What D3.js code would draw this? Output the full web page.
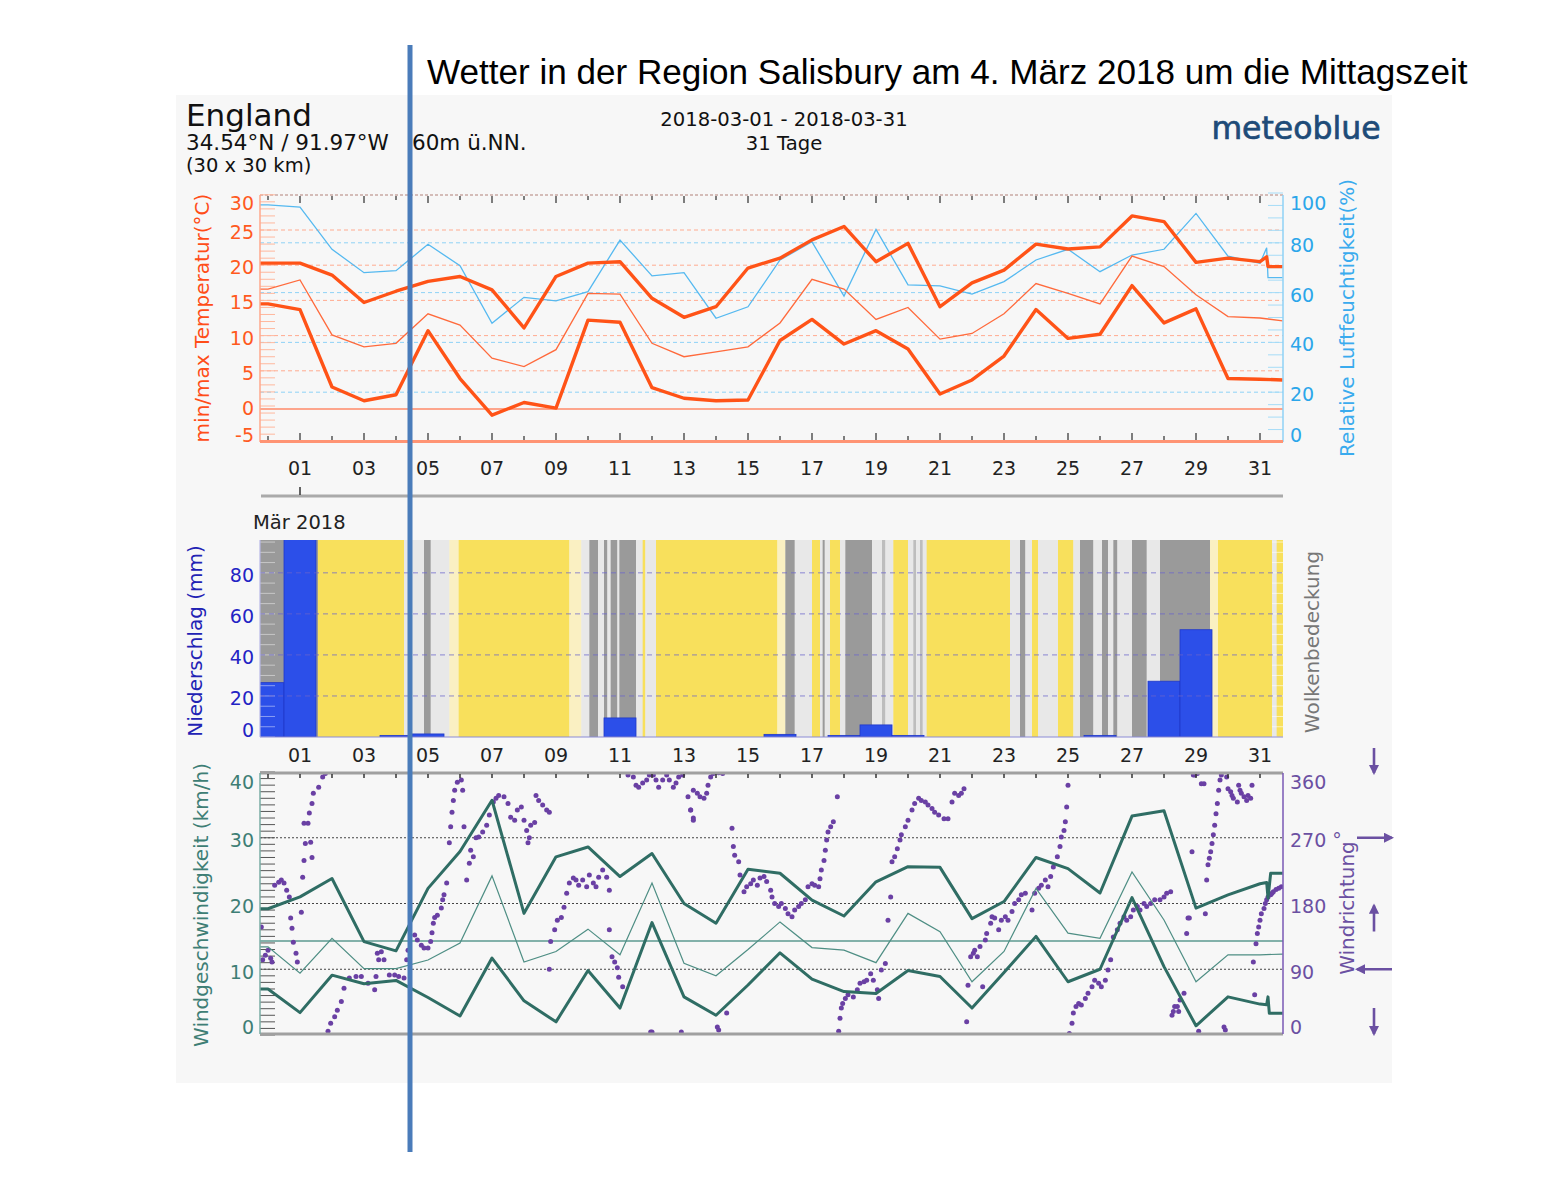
<!DOCTYPE html>
<html><head><meta charset="utf-8">
<script src="https://cdn.jsdelivr.net/npm/d3@7/dist/d3.min.js"></script>
<style>body{margin:0;background:#fff}text{font-family:"DejaVu Sans",sans-serif}</style>
</head><body>
<svg id="c" width="1560" height="1180"></svg>
<script>
// ---------------- DATA ----------------
// daily values, index 0 = 28 Feb, 1..31 = 1..31 March
const dayIndex = d3.range(0, 32);
const dayLabels = ["01","03","05","07","09","11","13","15","17","19","21","23","25","27","29","31"];
const tempMax = [20.3,20.3,18.6,14.7,16.3,17.7,18.4,16.5,11.1,18.4,20.3,20.5,15.3,12.6,14.1,19.6,21.0,23.6,25.5,20.5,23.1,14.1,17.5,19.3,23.0,22.3,22.6,27.0,26.2,20.4,21.0,20.5];
const tempMean = [16.6,17.9,10.1,8.4,8.9,13.1,11.5,6.8,5.6,8.0,16.0,15.9,8.9,7.0,7.7,8.4,11.8,18.0,16.6,12.3,14.0,9.5,10.3,13.1,17.4,16.0,14.5,21.3,19.8,15.8,12.7,12.5];
const tempMin = [14.5,13.7,2.7,0.75,1.6,10.7,3.9,-1.3,0.5,-0.3,12.2,11.9,2.6,1.1,0.75,0.85,9.3,12.3,8.8,10.7,8.1,1.7,3.7,7.1,13.7,9.6,10.2,17.1,11.8,13.8,3.9,3.8];
const humidity = [95.2,94.3,77.4,68.0,68.8,79.4,70.8,47.7,58.1,56.7,60.4,81.1,66.7,68.0,49.7,54.3,73.1,80.4,58.6,85.4,63.1,62.7,59.4,64.4,73.1,77.4,68.4,75.1,77.4,91.8,74.6,71.8];
const precip = [26,98,0,0,0.3,1,0,0,0,0,0,8.8,0,0,0,0,0.8,0,0.3,5.4,0.3,0,0,0,0,0,0.3,0,26.7,51.8,0,0];
const windMax = [19.2,21.0,23.8,14.2,12.8,22.3,27.9,35.7,18.5,27.1,28.6,24.1,27.6,20.0,17.0,25.2,24.6,20.5,18.1,23.3,25.6,25.5,17.7,20.3,27.0,25.3,21.6,33.3,34.1,19.3,21.3,23.0];
const windMean = [13.4,9.4,14.7,10.1,10.1,11.4,14.0,24.2,11.1,12.7,16.1,12.2,23.1,10.9,9.0,13.0,17.2,13.3,12.9,11.0,18.5,15.7,8.1,12.7,22.3,15.5,14.7,24.8,17.5,8.1,12.2,12.2];
const windMin = [7.0,3.4,9.1,7.8,8.3,5.7,2.9,11.7,5.2,2.0,9.8,4.1,17.1,5.8,3.0,7.6,12.5,8.5,6.6,6.3,9.8,8.9,4.1,9.5,15.0,8.1,10.0,20.9,10.4,1.4,5.8,4.7];
const windRef = 14.3;
// last partial-day values [hour since 1 March 00:00, value]
const tempMaxTail = [[737,21.2],[738,19.8],[749,19.8]];
const tempMeanTail = [[749,12.1]];
const tempMinTail = [[749,3.7]];
const humidityTail = [[737,78],[738,66],[749,66]];
const windMaxTail = [[737,23.2],[738,20.8],[740,24.6],[749,24.6]];
const windMeanTail = [[749,12.3]];
const windMinTail = [[737,4.6],[738,5.8],[739,3.3],[749,3.3]];
// cloud cover: [start hour, level] 0=clear 1=pale 2=light 3=medium 4=dark
const cloudSegments = [[-18,4],[25.5,0],[90,2],[105,4],[110,2],[124,1],[131,0],[214,1],[223,2],[229,4],[235.5,2],[240,4],[242.5,2],[245,4],[250,2],[251.5,4],[264,2],[269,0],[271,2],[279,0],[370,1],[376,4],[383,2],[396,0],[402,2],[404,4],[405.5,2],[409.5,0],[417,2],[421,4],[441,2],[448.5,3],[451,2],[457,0],[468,2],[472,3],[474,2],[477,3],[479,2],[482,0],[544.5,2],[552,4],[556,2],[561,0],[565.5,2],[580.5,0],[592,2],[597,4],[607,2],[613.5,4],[618,2],[622,4],[625,2],[636,4],[647,2],[657,4],[694.5,1],[700.5,0],[741,2],[744.5,0]];
// wind direction: [hour since 1 March 00:00, degrees]
const windDir = [[-17,148],[-16,103],[-14,109],[-12,116],[-10,105],[-9,100],[-7,205],[-4,209],[-2,212],[0,208],[2,198],[4,189],[5,160],[6,146],[7,127],[9,112],[10,100],[13,168],[14,216],[15,239],[16,262],[18,290],[19,304],[21,317],[22,331],[26,339],[29,353],[31,358],[15,290],[20,264],[21,243],
[33,5],[35,16],[38,25],[40,34],[43,46],[45,64],[49,78],[54,80],[58,80],[63,71],[68,62],[69,80],[70,112],[71,103],[73,114],[75,103],[79,82],[83,82],[86,80],[90,78],[92,103],[93,116],
[98,137],[100,130],[103,123],[105,119],[108,119],[110,128],[111,140],[112,153],[113,161],[115,164],[118,174],[119,185],[120,192],[122,208],[124,263],[125,285],[126,305],[127,321],[128,335],[130,346],[133,349],[134,335],[135,285],[137,212],[139,235],[140,253],[142,244],[144,270],[146,271],[149,278],[152,287],[154,301],[157,319],[159,324],[161,328],[165,326],[168,317],[170,298],[173,294],[175,308],[178,312],[180,294],[182,280],[183,263],[184,270],[185,287],[188,291],[189,328],[191,321],[194,315],[197,308],[199,305],[199,90],
[200,128],[203,144],[205,157],[208,161],[210,175],[212,194],[214,208],[217,215],[219,212],[221,205],[224,212],[227,203],[229,219],[232,208],[234,203],[236,216],[239,226],[242,216],[244,198],[244,144],[246,107],[248,100],[250,92],[251,79],[254,66],
[258,356],[262,353],[264,342],[266,339],[269,345],[272,349],[274,356],[277,356],[279,349],[281,339],[284,349],[287,356],[289,349],[292,339],[294,345],[296,353],[299,356],[275,4],[276,4],[298,4],[303,326],[305,308],[307,297],
[307,335],[310,331],[312,326],[315,324],[317,331],[318,342],[320,353],[322,358],[326,359],[329,358],[305,308],[307,294],[325,11],[326,7],[332,30],[336,283],[337,258],[338,246],[341,237],[342,219],
[345,196],[347,203],[350,207],[352,212],[355,205],[357,215],[360,217],[362,210],[365,198],[366,189],[368,180],[371,176],[373,180],[376,173],[378,166],[381,162],[383,171],[386,176],[388,180],[391,185],
[393,203],[396,207],[398,205],[401,203],[402,214],[403,226],[405,239],[406,253],[407,267],[408,278],[410,285],[412,292],[415,326],
[416,5],[417,23],[418,37],[419,43],[421,50],[423,55],[427,52],[430,62],[432,71],[435,73],[437,75],[440,84],[442,75],[445,62],[446,50],[448,89],[451,98],[453,157],[455,189],
[456,237],[458,244],[460,255],[462,267],[463,274],[466,285],[468,294],[471,308],[473,317],[476,324],[478,321],[481,319],[483,315],[486,310],[488,305],[491,301],[495,296],[498,296],[501,319],[503,331],[506,328],[508,331],[510,337],
[512,18],[513,68],[515,107],[517,112],[518,116],[520,107],[522,121],[524,66],[526,130],[527,139],[530,153],[531,162],[533,160],[536,144],[538,157],[541,162],[543,157],[546,169],[548,180],[551,185],[553,192],[556,194],
[561,171],[563,194],[566,201],[568,205],[571,212],[573,203],[575,217],[577,230],[580,244],[582,258],[583,271],[585,280],[586,292],[587,312],[588,342],
[589,2],[591,16],[592,30],[594,39],[596,43],[598,41],[601,50],[603,57],[606,66],[608,75],[611,71],[613,66],[616,75],[618,89],[620,103],
[622,134],[625,144],[627,153],[630,162],[632,157],[635,162],[637,171],[640,176],[642,171],[645,180],[647,176],[650,180],[653,185],[657,185],[660,189],[662,194],[665,196],
[666,27],[668,39],[671,32],[672,48],[675,57],[677,139],[678,160],[681,251],[683,356],[686,5],[690,344],
[682,356],[685,358],[688,344],[702,349],[703,356],[707,353],[691,166],[679,160],
[692,212],[693,233],[694,242],[695,251],[696,262],[697,274],[698,287],[699,303],[700,317],[701,335],
[708,337],[710,333],[711,328],[712,324],[715,319],[716,342],[717,335],[718,331],[720,326],[722,321],[723,328],[725,324],[726,342],
[727,100],[729,125],[730,139],[731,148],[732,157],[733,166],[735,173],[736,180],[737,185],[738,189],[740,192],[741,194],[742,196],[744,199],[746,201],[748,203],
[667,32],[670,39],[705,11],[706,7],[728,55]];
const tempTicks = [30,25,20,15,10,5,0,-5];
const humTicks = [100,80,60,40,20,0];
const precipTicks = [80,60,40,20,0];
const windTicks = [40,30,20,10,0];
const dirTicks = [360,270,180,90,0];

// ---------------- SETUP ----------------
const svg = d3.select("#c");
const L = 260, R = 1283;
const FT = 19, FA = 20;
const x = d3.scaleLinear().domain([-18, 749.25]).range([L, R]);
const dayHour = k => (k - 1) * 24 + 12;
const tY = d3.scaleLinear().domain([-5, 30]).range([441.2, 194.8]);
const hY = d3.scaleLinear().domain([0, 100]).range([442, 193]);
const pY = d3.scaleLinear().domain([0, 96]).range([737, 540]);
const wY = d3.scaleLinear().domain([0, 40]).range([1035, 772]);
const dY = d3.scaleLinear().domain([0, 360]).range([1035, 772]);

// title
svg.append("text").attr("x", 427).attr("y", 84).attr("font-size", 35.1)
  .style("font-family", "'Liberation Sans',Arial,sans-serif").attr("fill", "#000")
  .text("Wetter in der Region Salisbury am 4. März 2018 um die Mittagszeit");

// panel background
svg.append("rect").attr("x", 176).attr("y", 95).attr("width", 1216).attr("height", 988).attr("fill", "#f7f7f7");

// header
svg.append("text").attr("x", 186).attr("y", 126).attr("font-size", 31).attr("fill", "#111").text("England");
svg.append("text").attr("x", 186).attr("y", 150).attr("font-size", 21.5).attr("fill", "#111").text("34.54°N / 91.97°W");
svg.append("text").attr("x", 412).attr("y", 150).attr("font-size", 21.5).attr("fill", "#111").text("60m ü.NN.");
svg.append("text").attr("x", 186).attr("y", 172).attr("font-size", 19.5).attr("fill", "#111").text("(30 x 30 km)");
svg.append("text").attr("x", 784).attr("y", 126).attr("font-size", 19.6).attr("text-anchor", "middle").attr("fill", "#111").text("2018-03-01 - 2018-03-31");
svg.append("text").attr("x", 784).attr("y", 150).attr("font-size", 19.6).attr("text-anchor", "middle").attr("fill", "#111").text("31 Tage");
svg.append("text").attr("x", 1296).attr("y", 139).attr("font-size", 31.5).attr("text-anchor", "middle")
  .attr("fill", "#1e4b78").attr("stroke", "#1e4b78").attr("stroke-width", 0.7).text("meteoblue");

function clip(id, y0, y1) {
  svg.append("clipPath").attr("id", id).append("rect").attr("x", L).attr("y", y0).attr("width", R - L).attr("height", y1 - y0);
}
clip("cTop", 194, 442); clip("cMid", 540, 737); clip("cBot", 772, 1035);

function series(vals, tail) {
  const pts = [[-18, vals[0]]].concat(dayIndex.map((k, i) => [dayHour(k), vals[i]]));
  return pts.concat(tail);
}
function vtext(xp, yc, s, size, color) {
  svg.append("text").attr("transform", `translate(${xp},${yc}) rotate(-90)`).attr("text-anchor", "middle")
    .attr("dominant-baseline", "central").attr("font-size", size).attr("fill", color).text(s);
}
function dayTicks(g, y, dir, longLen, shortLen, color) {
  g.selectAll(null).data(dayIndex).join("line")
    .attr("x1", k => x(dayHour(k))).attr("x2", k => x(dayHour(k)))
    .attr("y1", y).attr("y2", k => y + dir * (k % 2 ? longLen : shortLen))
    .attr("stroke", color).attr("stroke-width", 1.5);
}

// ---------------- TOP PANEL ----------------
const gT = svg.append("g");
gT.selectAll(null).data([5, 10, 15, 20, 25]).join("line")
  .attr("x1", L).attr("x2", R).attr("y1", d => tY(d)).attr("y2", d => tY(d))
  .attr("stroke", "#ffab90").attr("stroke-width", 1).attr("stroke-dasharray", "4,3");
gT.selectAll(null).data([20, 40, 60, 80]).join("line")
  .attr("x1", L).attr("x2", R).attr("y1", d => hY(d)).attr("y2", d => hY(d))
  .attr("stroke", "#8fd2f6").attr("stroke-width", 1).attr("stroke-dasharray", "4,3");
gT.append("line").attr("x1", L).attr("x2", R).attr("y1", tY(0) + 3).attr("y2", tY(0) + 3).attr("stroke", "#ff8a68").attr("stroke-width", 1.6);
gT.append("line").attr("x1", L).attr("x2", R).attr("y1", 195).attr("y2", 195).attr("stroke", "#c9a9a4").attr("stroke-width", 1.6).attr("stroke-dasharray", "3,2");
// minor ticks
gT.selectAll(null).data(d3.range(-5, 31)).join("line")
  .attr("x1", L).attr("x2", L + 15).attr("y1", d => tY(d)).attr("y2", d => tY(d))
  .attr("stroke", "#ffb89e").attr("stroke-width", 1);
gT.selectAll(null).data(d3.range(0, 101, 5)).join("line")
  .attr("x1", R - 15).attr("x2", R).attr("y1", d => hY(d)).attr("y2", d => hY(d))
  .attr("stroke", "#a6dcf7").attr("stroke-width", 1);
dayTicks(gT, 196, 1, 7, 4, "#555");
dayTicks(gT, 440, -1, 7, 4, "#555");
const lineT = d3.line().x(d => x(d[0])).y(d => tY(d[1]));
const lineH = d3.line().x(d => x(d[0])).y(d => hY(d[1]));
const gTl = gT.append("g").attr("clip-path", "url(#cTop)");
gTl.append("path").attr("d", lineH(series(humidity, humidityTail))).attr("fill", "none").attr("stroke", "#55b9f0").attr("stroke-width", 1.3);
gTl.append("path").attr("d", lineT(series(tempMean, tempMeanTail))).attr("fill", "none").attr("stroke", "#ff6a3c").attr("stroke-width", 1.3);
gTl.append("path").attr("d", lineT(series(tempMax, tempMaxTail))).attr("fill", "none").attr("stroke", "#ff5317").attr("stroke-width", 3.4).attr("stroke-linejoin", "round");
gTl.append("path").attr("d", lineT(series(tempMin, tempMinTail))).attr("fill", "none").attr("stroke", "#ff5317").attr("stroke-width", 3.4).attr("stroke-linejoin", "round");
gT.append("line").attr("x1", L).attr("x2", L).attr("y1", 195).attr("y2", 442).attr("stroke", "#ffa88c").attr("stroke-width", 1.5);
gT.append("line").attr("x1", R).attr("x2", R).attr("y1", 195).attr("y2", 442).attr("stroke", "#8fd2f6").attr("stroke-width", 1.5);
gT.append("line").attr("x1", L).attr("x2", R).attr("y1", 441.5).attr("y2", 441.5).attr("stroke", "#ff9474").attr("stroke-width", 3);
gT.selectAll(null).data(tempTicks).join("text")
  .attr("x", 254).attr("y", d => Math.max(203, Math.min(435, tY(d) + 2))).attr("text-anchor", "end")
  .attr("dominant-baseline", "central").attr("font-size", FT).attr("fill", "#ff5a1e").text(d => d);
gT.selectAll(null).data(humTicks).join("text")
  .attr("x", 1290).attr("y", d => Math.max(203, Math.min(435, hY(d) + 2)))
  .attr("dominant-baseline", "central").attr("font-size", FT).attr("fill", "#2ba6ea").text(d => d);
vtext(202, 318, "min/max Temperatur(°C)", FA, "#ff4d18");
vtext(1347, 318, "Relative Luftfeuchtigkeit(%)", FA, "#3aabee");
// day labels
function dayLabelRow(y) {
  svg.selectAll(null).data(dayLabels).join("text")
    .attr("x", d => x(dayHour(+d))).attr("y", y).attr("text-anchor", "middle").attr("dominant-baseline", "central")
    .attr("font-size", FT).attr("fill", "#222").text(d => d);
}
dayLabelRow(468);
svg.append("line").attr("x1", 261).attr("x2", R).attr("y1", 496).attr("y2", 496).attr("stroke", "#aaa").attr("stroke-width", 3);
svg.append("line").attr("x1", x(dayHour(1))).attr("x2", x(dayHour(1))).attr("y1", 487).attr("y2", 495).attr("stroke", "#333").attr("stroke-width", 1.5);
svg.append("text").attr("x", 253).attr("y", 529).attr("font-size", FA - 0.5).attr("fill", "#222").text("Mär 2018");

// ---------------- MIDDLE PANEL ----------------
const cloudColor = ["#f8e05c", "#faf0c2", "#e8e8e8", "#bdbdbd", "#9a9a9a"];
const gM = svg.append("g").attr("clip-path", "url(#cMid)");
gM.selectAll(null).data(cloudSegments).join("rect")
  .attr("x", d => x(d[0]))
  .attr("width", (d, i) => x(i + 1 < cloudSegments.length ? cloudSegments[i + 1][0] : 749.25) - x(d[0]) + 0.3)
  .attr("y", 540).attr("height", 197).attr("fill", d => cloudColor[d[1]]);
gM.selectAll(null).data(dayIndex.filter(k => precip[k] > 0)).join("rect")
  .attr("x", k => x(Math.max(-18, (k - 1) * 24)))
  .attr("width", k => x(Math.min(749.25, k * 24)) - x(Math.max(-18, (k - 1) * 24)))
  .attr("y", k => pY(Math.min(precip[k], 96)) - 1)
  .attr("height", k => pY(0) - pY(Math.min(precip[k], 96)) + 1)
  .attr("fill", "#2c4fe9").attr("stroke", "#2038c8").attr("stroke-width", 0.8);
gM.selectAll(null).data(d3.range(0, 97, 5)).join("line")
  .attr("x1", L).attr("x2", L + 15).attr("y1", d => pY(d)).attr("y2", d => pY(d))
  .attr("stroke", "#ffffff").attr("stroke-opacity", 0.45).attr("stroke-width", 1);
gM.selectAll(null).data(d3.range(0, 97, 5)).join("line")
  .attr("x1", R - 11).attr("x2", R).attr("y1", d => pY(d)).attr("y2", d => pY(d))
  .attr("stroke", "#ffffff").attr("stroke-opacity", 0.6).attr("stroke-width", 1);
gM.selectAll(null).data([20, 40, 60, 80]).join("line")
  .attr("x1", L).attr("x2", R).attr("y1", d => pY(d)).attr("y2", d => pY(d))
  .attr("stroke", "#6a64cc").attr("stroke-opacity", 0.75).attr("stroke-width", 1).attr("stroke-dasharray", "5,4");
svg.append("line").attr("x1", L).attr("x2", R).attr("y1", 737).attr("y2", 737).attr("stroke", "#8c8cd6").attr("stroke-width", 1.2);
svg.append("line").attr("x1", L).attr("x2", L).attr("y1", 540).attr("y2", 737).attr("stroke", "#b8b8e6").attr("stroke-width", 1.2);
svg.selectAll(null).data(precipTicks).join("text")
  .attr("x", 254).attr("y", d => Math.min(730, pY(d) + 2)).attr("text-anchor", "end")
  .attr("dominant-baseline", "central").attr("font-size", FT).attr("fill", "#2323c4").text(d => d);
vtext(195, 641, "Niederschlag (mm)", FA, "#2222b4");
vtext(1312, 642, "Wolkenbedeckung", FA, "#777");
dayLabelRow(755);

// ---------------- BOTTOM PANEL ----------------
const gB = svg.append("g");
gB.selectAll(null).data([10, 20, 30]).join("line")
  .attr("x1", L).attr("x2", R).attr("y1", d => wY(d)).attr("y2", d => wY(d))
  .attr("stroke", "#444").attr("stroke-width", 1).attr("stroke-dasharray", "2,2");
gB.selectAll(null).data(d3.range(0, 41)).join("line")
  .attr("x1", L).attr("x2", L + 15).attr("y1", d => wY(d)).attr("y2", d => wY(d))
  .attr("stroke", "#555").attr("stroke-width", 1);
gB.append("line").attr("x1", L).attr("x2", R).attr("y1", wY(windRef)).attr("y2", wY(windRef)).attr("stroke", "#5d9a91").attr("stroke-width", 1.4);
const gBl = gB.append("g").attr("clip-path", "url(#cBot)");
gBl.selectAll(null).data(windDir).join("circle")
  .attr("cx", d => x(d[0])).attr("cy", d => dY(d[1])).attr("r", 2.5).attr("fill", "#6a40a4");
const lineW = d3.line().x(d => x(d[0])).y(d => wY(d[1]));
gBl.append("path").attr("d", lineW(series(windMean, windMeanTail))).attr("fill", "none").attr("stroke", "#4e8e84").attr("stroke-width", 1.2);
gBl.append("path").attr("d", lineW(series(windMax, windMaxTail))).attr("fill", "none").attr("stroke", "#2f6d64").attr("stroke-width", 3).attr("stroke-linejoin", "round");
gBl.append("path").attr("d", lineW(series(windMin, windMinTail))).attr("fill", "none").attr("stroke", "#2f6d64").attr("stroke-width", 3).attr("stroke-linejoin", "round");
gB.append("line").attr("x1", L).attr("x2", R).attr("y1", 773).attr("y2", 773).attr("stroke", "#a0a0a0").attr("stroke-width", 3);
gB.append("line").attr("x1", L).attr("x2", R).attr("y1", 1034).attr("y2", 1034).attr("stroke", "#a0a0a0").attr("stroke-width", 3);
dayTicks(gB, 774, 1, 4, 4, "#333");
gB.append("line").attr("x1", L).attr("x2", L).attr("y1", 773).attr("y2", 1034).attr("stroke", "#7aaca5").attr("stroke-width", 1.5);
gB.append("line").attr("x1", R).attr("x2", R).attr("y1", 773).attr("y2", 1034).attr("stroke", "#7a58b4").attr("stroke-width", 1.5);
gB.selectAll(null).data(windTicks).join("text")
  .attr("x", 254).attr("y", d => Math.max(782, Math.min(1027, wY(d) + 2.5))).attr("text-anchor", "end")
  .attr("dominant-baseline", "central").attr("font-size", FT).attr("fill", "#3e7e75").text(d => d);
gB.selectAll(null).data(dirTicks).join("text")
  .attr("x", 1290).attr("y", d => Math.max(782, Math.min(1027, dY(d) + 2.5)))
  .attr("dominant-baseline", "central").attr("font-size", FT).attr("fill", "#6b50a2").text(d => d === 270 ? "270 °" : d);
vtext(201, 905, "Windgeschwindigkeit (km/h)", FA, "#3e7e75");
vtext(1347, 908, "Windrichtung", FA, "#6b50a2");
// direction arrows
const defs = svg.append("defs");
defs.append("marker").attr("id", "ah").attr("viewBox", "0 0 10 10").attr("refX", 8).attr("refY", 5)
  .attr("markerWidth", 4).attr("markerHeight", 4).attr("orient", "auto")
  .append("path").attr("d", "M0,0 L10,5 L0,10 Z").attr("fill", "#6b50a2");
const ax = 1374, hx0 = 1357, hx1 = 1392;
const arrows = [
  [ax, dY(360) - 24, ax, dY(360) + 1],
  [hx0, dY(270), hx1, dY(270)],
  [ax, dY(180) + 28, ax, dY(180) + 2],
  [hx1, dY(90), hx0, dY(90)],
  [ax, dY(0) - 27, ax, dY(0) - 1]
];
svg.selectAll(null).data(arrows).join("line")
  .attr("x1", d => d[0]).attr("y1", d => d[1]).attr("x2", d => d[2]).attr("y2", d => d[3])
  .attr("stroke", "#6b50a2").attr("stroke-width", 2.6).attr("marker-end", "url(#ah)");

// marker line
svg.append("line").attr("x1", 410).attr("x2", 410).attr("y1", 45).attr("y2", 1152).attr("stroke", "#4a7cba").attr("stroke-width", 5);
</script>
</body></html>
